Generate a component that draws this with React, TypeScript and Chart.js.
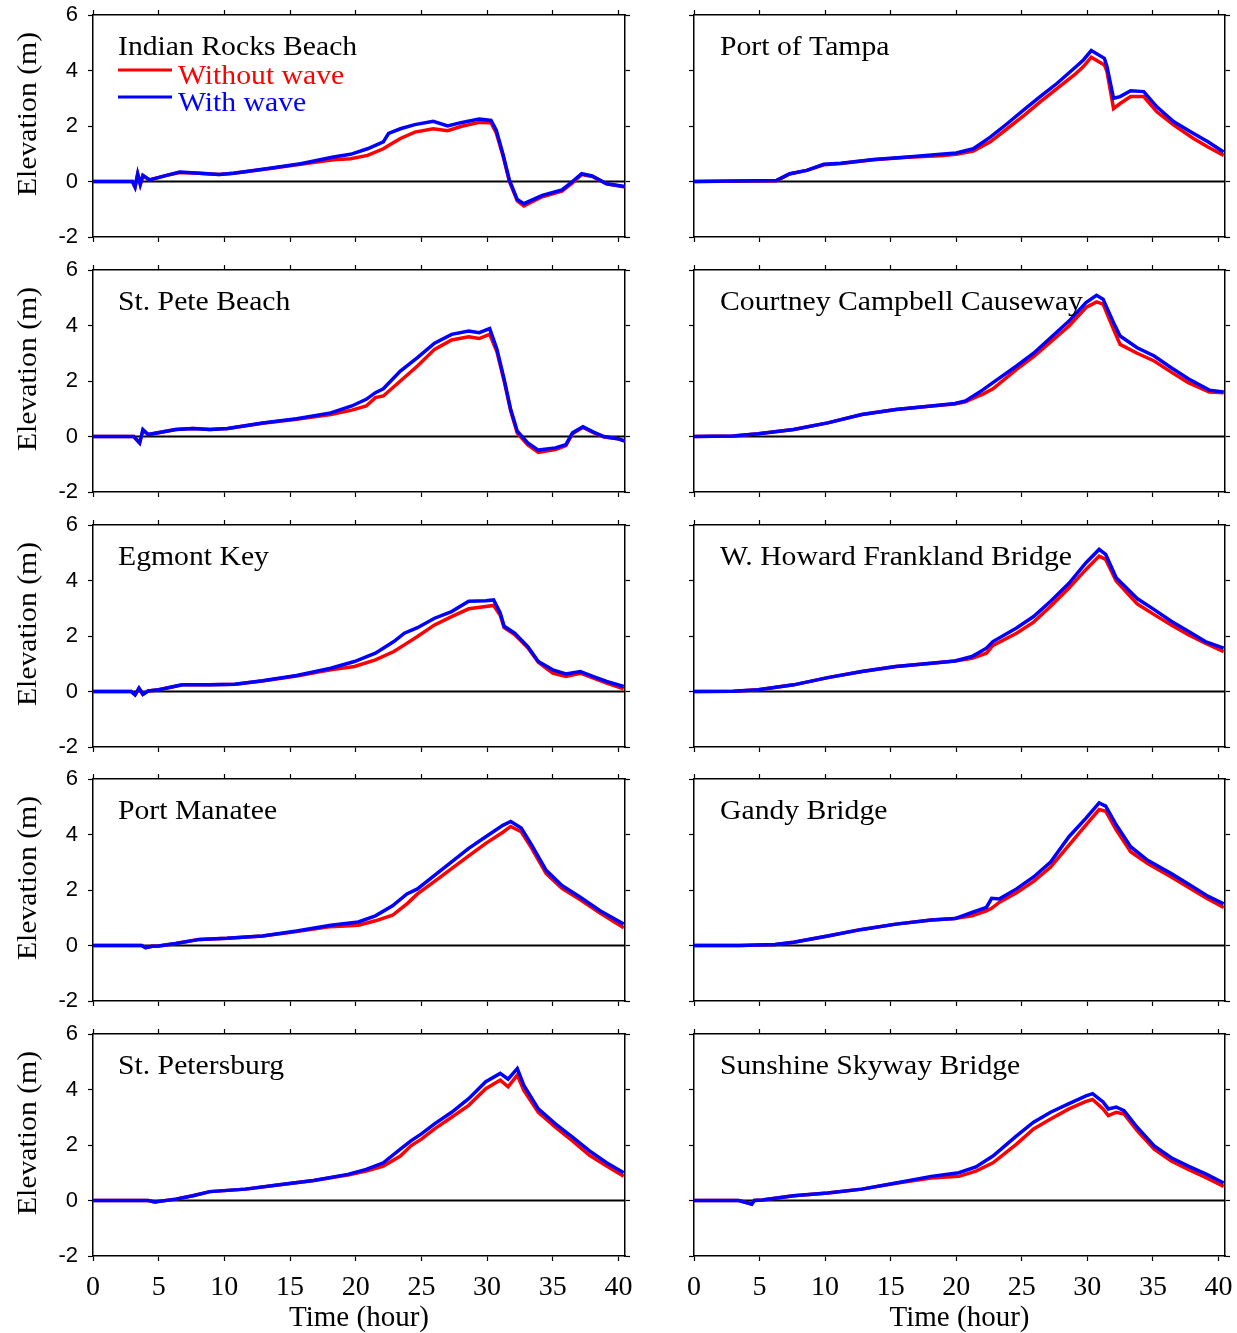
import React, { useEffect, useRef } from "react";
import { Chart, registerables } from "chart.js";

Chart.register(...registerables);

// ---------- data (hours, elevation in m) ----------
const indianRocksTime = [0, 3.0, 3.2, 3.4, 3.6, 3.8, 4.3, 5.6, 6.6, 8.1, 9.6, 10.7, 13.2, 15.8, 18.3, 19.6, 20.9, 22.1, 22.5, 23.4, 24.5, 25.9, 27.0, 28.0, 29.4, 30.3, 30.7, 31.2, 31.7, 32.3, 32.8, 34.2, 35.7, 36.5, 37.2, 38.0, 39.1, 40.5];
const indianRocksWithout = [0, 0, -0.2, 0.25, -0.1, 0.2, 0.06, 0.22, 0.32, 0.3, 0.25, 0.3, 0.45, 0.62, 0.78, 0.82, 0.94, 1.18, 1.3, 1.55, 1.78, 1.9, 1.83, 1.98, 2.13, 2.12, 1.75, 0.95, 0.0, -0.7, -0.88, -0.55, -0.35, -0.05, 0.25, 0.18, -0.08, -0.2];
const indianRocksWith = [0, 0, -0.2, 0.28, -0.1, 0.22, 0.06, 0.22, 0.34, 0.3, 0.25, 0.3, 0.46, 0.64, 0.88, 0.98, 1.18, 1.43, 1.73, 1.9, 2.05, 2.17, 2.0, 2.12, 2.25, 2.2, 1.85, 1.0, 0.05, -0.65, -0.8, -0.5, -0.3, 0.0, 0.28, 0.2, -0.08, -0.18];

const stPeteTime = [0, 3.1, 3.55, 3.8, 4.2, 6.3, 7.6, 8.9, 10.25, 12.9, 15.5, 18.1, 19.7, 20.8, 21.5, 22.1, 23.4, 24.7, 26.0, 27.3, 28.6, 29.4, 30.2, 30.75, 31.3, 31.8, 32.3, 33.1, 33.9, 35.2, 36.0, 36.5, 37.3, 38.1, 38.9, 39.95, 40.5];
const stPeteWithout = [0, 0, -0.23, 0.22, 0.07, 0.25, 0.29, 0.25, 0.29, 0.48, 0.62, 0.79, 0.95, 1.1, 1.4, 1.46, 2.0, 2.54, 3.14, 3.48, 3.59, 3.53, 3.68, 3.05, 2.0, 0.92, 0.12, -0.3, -0.57, -0.47, -0.33, 0.1, 0.33, 0.14, -0.02, -0.08, -0.17];
const stPeteWith = [0, 0, -0.23, 0.25, 0.07, 0.25, 0.29, 0.25, 0.29, 0.49, 0.64, 0.85, 1.1, 1.34, 1.58, 1.72, 2.36, 2.84, 3.36, 3.68, 3.8, 3.74, 3.89, 3.14, 2.06, 0.97, 0.19, -0.23, -0.49, -0.41, -0.29, 0.13, 0.35, 0.16, 0, -0.08, -0.17];

const egmontTime = [0, 2.9, 3.2, 3.5, 3.8, 4.2, 5.0, 6.8, 8.9, 10.8, 12.9, 15.5, 18.1, 19.9, 21.5, 22.9, 23.7, 24.7, 26.0, 27.3, 28.6, 29.9, 30.5, 31.0, 31.3, 32.1, 33.1, 33.9, 35.0, 36.0, 37.1, 38.1, 39.1, 40.4];
const egmontWithout = [0, 0, -0.12, 0.1, -0.1, 0.02, 0.06, 0.24, 0.24, 0.26, 0.38, 0.56, 0.78, 0.9, 1.14, 1.44, 1.68, 1.98, 2.4, 2.7, 2.98, 3.06, 3.1, 2.75, 2.3, 2.05, 1.58, 1.05, 0.66, 0.54, 0.66, 0.48, 0.3, 0.1];
const egmontWith = [0, 0, -0.12, 0.12, -0.1, 0.02, 0.06, 0.24, 0.24, 0.26, 0.39, 0.58, 0.84, 1.08, 1.38, 1.8, 2.1, 2.3, 2.64, 2.88, 3.25, 3.27, 3.3, 2.83, 2.35, 2.1, 1.62, 1.08, 0.78, 0.63, 0.72, 0.54, 0.36, 0.18];

const manateeTime = [0, 3.7, 4.0, 4.5, 5.0, 6.3, 8.1, 10.2, 12.9, 15.5, 18.1, 20.2, 21.5, 22.8, 23.9, 24.7, 26.0, 27.3, 28.6, 29.9, 31.2, 31.8, 32.6, 33.4, 34.5, 35.7, 37.1, 38.6, 40.4];
const manateeWithout = [0, 0, -0.08, -0.03, -0.02, 0.07, 0.22, 0.26, 0.34, 0.5, 0.68, 0.73, 0.89, 1.09, 1.5, 1.86, 2.31, 2.77, 3.23, 3.68, 4.08, 4.29, 4.1, 3.5, 2.59, 2.06, 1.65, 1.17, 0.64];
const manateeWith = [0, 0, -0.08, -0.03, -0.02, 0.07, 0.22, 0.26, 0.34, 0.52, 0.73, 0.85, 1.07, 1.43, 1.86, 2.04, 2.53, 3.01, 3.5, 3.92, 4.33, 4.47, 4.23, 3.62, 2.71, 2.16, 1.74, 1.25, 0.77];

const stPetersburgTime = [0, 4.2, 4.7, 6.3, 7.6, 8.9, 11.6, 14.2, 16.8, 19.4, 20.8, 22.1, 23.4, 24.2, 25.0, 26.0, 27.3, 28.6, 29.9, 31.0, 31.6, 32.3, 32.8, 33.9, 35.2, 36.5, 37.8, 39.1, 40.4];
const stPetersburgWithout = [0, 0, -0.05, 0.05, 0.17, 0.32, 0.41, 0.57, 0.72, 0.92, 1.06, 1.24, 1.6, 1.97, 2.21, 2.58, 3.0, 3.43, 4.03, 4.34, 4.1, 4.52, 3.97, 3.18, 2.64, 2.15, 1.63, 1.24, 0.87];
const stPetersburgWith = [0, 0, -0.05, 0.05, 0.17, 0.32, 0.41, 0.57, 0.72, 0.94, 1.12, 1.36, 1.85, 2.15, 2.4, 2.76, 3.18, 3.67, 4.28, 4.58, 4.37, 4.75, 4.15, 3.3, 2.76, 2.28, 1.79, 1.36, 1.0];

const tampaTime = [0, 6.3, 7.3, 8.6, 9.9, 11.2, 13.7, 16.3, 18.8, 20.0, 21.3, 22.6, 23.9, 25.2, 26.4, 27.7, 29.0, 29.7, 30.3, 31.3, 31.5, 32.0, 32.5, 33.3, 34.3, 35.3, 36.6, 38.1, 39.2, 40.4];
const tampaWithout = [0, 0.03, 0.27, 0.4, 0.6, 0.65, 0.78, 0.87, 0.93, 0.98, 1.1, 1.43, 1.91, 2.39, 2.87, 3.36, 3.84, 4.14, 4.48, 4.2, 3.96, 2.63, 2.81, 3.06, 3.06, 2.51, 2.03, 1.55, 1.24, 0.94];
const tampaWith = [0, 0.04, 0.28, 0.4, 0.62, 0.66, 0.79, 0.88, 0.98, 1.03, 1.18, 1.6, 2.09, 2.6, 3.06, 3.54, 4.08, 4.38, 4.72, 4.44, 4.14, 3.0, 3.06, 3.27, 3.24, 2.69, 2.15, 1.73, 1.43, 1.06];

const courtneyTime = [0, 3.0, 4.9, 7.6, 10.2, 12.8, 15.4, 18.1, 19.9, 20.7, 21.7, 22.0, 22.8, 24.6, 25.9, 27.2, 28.6, 29.9, 30.7, 31.2, 32.0, 32.5, 33.8, 35.1, 36.4, 37.7, 39.3, 40.4];
const courtneyWithout = [0, 0.02, 0.1, 0.25, 0.49, 0.79, 0.97, 1.1, 1.17, 1.25, 1.46, 1.52, 1.72, 2.42, 2.88, 3.41, 3.98, 4.65, 4.85, 4.77, 3.86, 3.32, 3.0, 2.72, 2.32, 1.94, 1.6, 1.58];
const courtneyWith = [0, 0.02, 0.1, 0.25, 0.49, 0.79, 0.97, 1.1, 1.19, 1.28, 1.58, 1.67, 1.94, 2.54, 3.0, 3.56, 4.16, 4.83, 5.09, 4.95, 4.1, 3.62, 3.2, 2.9, 2.48, 2.08, 1.67, 1.6];

const howardTime = [0, 3.0, 4.9, 7.6, 10.2, 12.8, 15.4, 18.1, 19.9, 21.2, 22.3, 22.8, 24.6, 25.9, 27.2, 28.6, 29.9, 30.9, 31.4, 32.2, 33.8, 35.1, 36.4, 37.7, 39.0, 40.4];
const howardWithout = [0, 0.01, 0.06, 0.24, 0.5, 0.72, 0.9, 1.02, 1.1, 1.2, 1.38, 1.66, 2.1, 2.5, 3.07, 3.73, 4.4, 4.88, 4.76, 3.98, 3.16, 2.77, 2.4, 2.05, 1.74, 1.44];
const howardWith = [0, 0.01, 0.06, 0.24, 0.5, 0.72, 0.9, 1.02, 1.1, 1.26, 1.56, 1.8, 2.29, 2.7, 3.25, 3.9, 4.64, 5.12, 4.94, 4.1, 3.35, 2.95, 2.53, 2.17, 1.8, 1.56];

const gandyTime = [0, 3.5, 6.2, 7.6, 10.2, 12.8, 15.4, 18.1, 19.9, 21.2, 22.3, 22.7, 23.3, 24.6, 25.9, 27.2, 28.6, 29.9, 30.9, 31.4, 32.2, 33.3, 34.6, 36.4, 37.7, 39.1, 40.4];
const gandyWithout = [0, 0, 0.04, 0.12, 0.34, 0.58, 0.77, 0.92, 0.97, 1.07, 1.25, 1.34, 1.56, 1.9, 2.31, 2.83, 3.62, 4.35, 4.9, 4.84, 4.17, 3.38, 2.95, 2.47, 2.1, 1.7, 1.37];
const gandyWith = [0, 0, 0.04, 0.12, 0.34, 0.58, 0.77, 0.92, 0.97, 1.19, 1.37, 1.7, 1.68, 2.04, 2.47, 3.01, 3.92, 4.59, 5.14, 5.02, 4.35, 3.56, 3.07, 2.59, 2.22, 1.8, 1.5];

const skywayTime = [0, 3.4, 4.2, 4.4, 4.6, 5.2, 7.6, 10.2, 12.8, 15.4, 18.1, 20.2, 21.5, 22.8, 24.6, 25.9, 27.2, 28.6, 29.9, 30.4, 31.2, 31.6, 32.2, 32.8, 33.8, 35.1, 36.4, 37.7, 39.1, 40.4];
const skywayWithout = [0, 0, -0.1, -0.13, 0.0, 0.02, 0.17, 0.27, 0.41, 0.62, 0.81, 0.87, 1.06, 1.36, 2.03, 2.58, 2.94, 3.3, 3.57, 3.64, 3.3, 3.06, 3.18, 3.12, 2.52, 1.85, 1.42, 1.12, 0.81, 0.51];
const skywayWith = [0, 0, -0.1, -0.13, 0.0, 0.02, 0.17, 0.27, 0.41, 0.63, 0.87, 1.0, 1.21, 1.6, 2.33, 2.82, 3.18, 3.49, 3.77, 3.85, 3.55, 3.3, 3.37, 3.24, 2.64, 1.97, 1.54, 1.24, 0.94, 0.63];

const stationNames = [
  "Indian Rocks Beach", "St. Pete Beach", "Egmont Key", "Port Manatee", "St. Petersburg",
  "Port of Tampa", "Courtney Campbell Causeway", "W. Howard Frankland Bridge", "Gandy Bridge", "Sunshine Skyway Bridge",
];
const seriesLabels = ["Without wave", "With wave"];
const xTitle = "Time (hour)";
const yTitle = "Elevation (m)";

const panels = [
  { t: indianRocksTime, a: indianRocksWithout, b: indianRocksWith },
  { t: stPeteTime, a: stPeteWithout, b: stPeteWith },
  { t: egmontTime, a: egmontWithout, b: egmontWith },
  { t: manateeTime, a: manateeWithout, b: manateeWith },
  { t: stPetersburgTime, a: stPetersburgWithout, b: stPetersburgWith },
  { t: tampaTime, a: tampaWithout, b: tampaWith },
  { t: courtneyTime, a: courtneyWithout, b: courtneyWith },
  { t: howardTime, a: howardWithout, b: howardWith },
  { t: gandyTime, a: gandyWithout, b: gandyWith },
  { t: skywayTime, a: skywayWithout, b: skywayWith },
];

const RED = "#ff0000";
const BLUE = "#0000ff";
const SERIF = "'Liberation Serif', 'Times New Roman', serif";
const SANS = "'Liberation Sans', Arial, sans-serif";

const rowTops = [0, 255, 510, 764, 1019];
const PLOT_TOP = 15;
const PLOT_BOTTOM = 237;

function stretchedText(ctx: CanvasRenderingContext2D, text: string, x: number, y: number, color: string) {
  ctx.save();
  ctx.translate(x, y);
  ctx.scale(1.1, 1);
  ctx.fillStyle = color;
  ctx.font = `27px ${SERIF}`;
  ctx.textBaseline = "alphabetic";
  ctx.textAlign = "left";
  ctx.fillText(text, 0, 0);
  ctx.restore();
}

function Panel({ index }: { index: number }) {
  const ref = useRef<HTMLCanvasElement>(null);
  const col = index < 5 ? 0 : 1;
  const row = index % 5;
  const isLeft = col === 0;
  const isBottom = row === 4;
  const W = isLeft ? 640 : 597;
  const H = isBottom ? 314 : rowTops[row + 1] - rowTops[row];
  const plotLeft = isLeft ? 93 : 54;
  const plotRight = isLeft ? 625 : 585;
  const left = isLeft ? 0 : 640;
  const top = rowTops[row];

  useEffect(() => {
    const p = panels[index];
    const zeroPad = (s: any) => {
      s.paddingLeft = 0;
      s.paddingRight = 0;
      s.paddingTop = 0;
      s.paddingBottom = 0;
    };
    const gridOpts = {
      drawOnChartArea: false,
      drawTicks: true,
      tickLength: 5,
      tickColor: "#000",
      tickWidth: 1.2,
      color: "#000",
    };
    const borderOpts = { display: true, color: "#000", width: 1.5 };

    const textPlugin = {
      id: "panelText",
      afterDraw(chart: any) {
        const { ctx, chartArea } = chart;
        const tx = chartArea.left + (isLeft ? 25 : 26);
        stretchedText(ctx, stationNames[index], tx, chartArea.top + 40, "#000");
        if (index === 0) {
          ctx.save();
          ctx.lineWidth = 3;
          ctx.strokeStyle = RED;
          ctx.beginPath();
          ctx.moveTo(118, chartArea.top + 55);
          ctx.lineTo(172, chartArea.top + 55);
          ctx.stroke();
          ctx.strokeStyle = BLUE;
          ctx.beginPath();
          ctx.moveTo(118, chartArea.top + 82);
          ctx.lineTo(172, chartArea.top + 82);
          ctx.stroke();
          ctx.restore();
          stretchedText(ctx, seriesLabels[0], 178, chartArea.top + 69, RED);
          stretchedText(ctx, seriesLabels[1], 178, chartArea.top + 96, BLUE);
        }
        if (isLeft) {
          const cy = (chartArea.top + chartArea.bottom) / 2 - 12;
          ctx.save();
          ctx.translate(36, cy);
          ctx.rotate(-Math.PI / 2);
          ctx.scale(1.1, 1);
          ctx.fillStyle = "#000";
          ctx.font = `27px ${SERIF}`;
          ctx.textAlign = "center";
          ctx.textBaseline = "alphabetic";
          ctx.fillText(yTitle, 0, 0);
          ctx.restore();
        }
      },
    };

    // In Chart.js the first dataset is painted last (on top):
    // blue "with wave" on top, then red, then the black zero line underneath.
    const chart = new Chart(ref.current as HTMLCanvasElement, {
      type: "line",
      data: {
        datasets: [
          {
            label: seriesLabels[1],
            data: p.t.map((x, i) => ({ x, y: p.b[i] })),
            borderColor: BLUE,
            borderWidth: 3.5,
            pointRadius: 0,
            tension: 0,
          },
          {
            label: seriesLabels[0],
            data: p.t.map((x, i) => ({ x, y: p.a[i] })),
            borderColor: RED,
            borderWidth: 3.5,
            pointRadius: 0,
            tension: 0,
          },
          {
            data: [{ x: 0, y: 0 }, { x: 40.5, y: 0 }],
            borderColor: "#000",
            borderWidth: 2,
            pointRadius: 0,
            tension: 0,
          },
        ],
      },
      options: {
        responsive: false,
        animation: false,
        devicePixelRatio: 1,
        layout: { padding: 0 },
        events: [],
        plugins: { legend: { display: false }, tooltip: { enabled: false }, title: { display: false } },
        scales: {
          x: {
            type: "linear",
            position: "bottom",
            min: 0,
            max: 40.5,
            ticks: {
              stepSize: 5,
              includeBounds: false,
              display: isBottom,
              color: "#000",
              font: { family: SERIF, size: 28 },
              padding: 10,
              maxRotation: 0,
              autoSkip: false,
            },
            grid: gridOpts,
            border: borderOpts,
            title: {
              display: isBottom,
              text: xTitle,
              color: "#000",
              font: { family: SERIF, size: 29 },
              padding: { top: 0, bottom: -3 },
            },
            afterFit: (s: any) => {
              s.height = H - PLOT_BOTTOM;
              zeroPad(s);
            },
          },
          x2: {
            type: "linear",
            axis: "x",
            position: "top",
            min: 0,
            max: 40.5,
            ticks: { stepSize: 5, includeBounds: false, display: false },
            grid: gridOpts,
            border: borderOpts,
            afterFit: (s: any) => {
              s.height = PLOT_TOP;
              zeroPad(s);
            },
          },
          y: {
            type: "linear",
            position: "left",
            min: -2,
            max: 6,
            ticks: {
              stepSize: 2,
              display: isLeft,
              color: "#000",
              font: { family: SANS, size: 22 },
              padding: 10,
            },
            grid: gridOpts,
            border: borderOpts,
            afterFit: (s: any) => {
              s.width = plotLeft;
              zeroPad(s);
            },
          },
          y2: {
            type: "linear",
            axis: "y",
            position: "right",
            min: -2,
            max: 6,
            ticks: { stepSize: 2, display: false },
            grid: gridOpts,
            border: borderOpts,
            afterFit: (s: any) => {
              s.width = W - plotRight;
              zeroPad(s);
            },
          },
        },
      } as any,
      plugins: [textPlugin],
    });
    return () => chart.destroy();
  }, []);

  return (
    <canvas
      ref={ref}
      width={W}
      height={H}
      style={{ position: "absolute", left, top, width: W, height: H, display: "block" }}
    />
  );
}

export default function App() {
  return (
    <div
      style={{
        position: "absolute",
        left: 0,
        top: 0,
        width: 1237,
        height: 1333,
        background: "#fff",
        overflow: "hidden",
      }}
    >
      {panels.map((_, i) => (
        <Panel key={i} index={i} />
      ))}
    </div>
  );
}
